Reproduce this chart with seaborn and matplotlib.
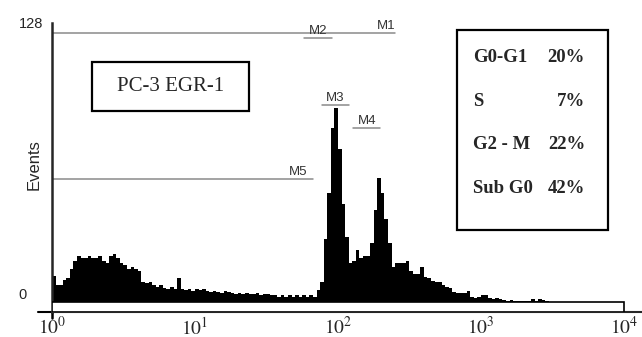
import numpy as np
import pandas as pd
import seaborn as sns
import matplotlib.pyplot as plt
from matplotlib.patches import Rectangle
from matplotlib.ticker import NullLocator

# histogram channels: 0.025 decade wide, starting at 10^0
bin_width = 0.025
counts = [
    12, 8, 8, 10, 11, 15, 19, 21, 20, 20,
    21, 20, 20, 21, 19, 18, 21, 22, 20, 18,
    17, 15, 16, 15, 14, 9, 8.5, 9, 8, 7,
    8, 6.5, 6, 7, 6, 11, 6, 5.5, 6, 5,
    6, 5.5, 6, 5, 4.5, 5, 4.5, 4, 5, 4.5,
    4, 3.5, 4, 3.5, 4, 3.5, 3.5, 4, 3, 3.5,
    3.5, 3, 3, 2.5, 3, 2.5, 3, 2.5, 3, 2.5,
    3, 2.5, 3, 2.5, 5.5, 9, 29, 50, 80, 89,
    70, 45, 30, 18, 19, 24, 20, 21, 21, 27,
    42, 57, 50, 38, 27, 16, 18, 18, 18, 19,
    14, 13, 13, 16, 11.5, 11, 9.5, 9, 9, 8,
    7, 6.5, 4.5, 4, 4, 4, 5, 2.5, 2, 2.5,
    3, 3, 2, 1.5, 2, 1.5, 1, 0.5, 1, 0.5,
    0.5, 0.5, 0.5, 0.3, 1.2, 0.6, 1.2, 0.8, 0.3, 0,
]

# marker gates (name, start, end, level)
gate_names = ["M1", "M2", "M3", "M4", "M5"]
gate_start = [1.0, 57.8, 77.3, 127.3, 1.0]
gate_end = [251.0, 90.8, 119.4, 196.7, 66.8]
gate_level = [123.4, 121.1, 90.4, 79.8, 56.4]
gate_label_x = [217.0, 72.4, 96.0, 159.0, 52.5]

phases = ["G0-G1", "S", "G2 - M", "Sub G0"]
phase_pct = ["20%", "7%", "22%", "42%"]

decades = [1, 10, 100, 1000, 10000]
decade_labels = [r"$10^{0}$", r"$10^{1}$", r"$10^{2}$", r"$10^{3}$", r"$10^{4}$"]

n = len(counts)
centers = 10 ** ((np.arange(n) + 0.5) * bin_width)
df = pd.DataFrame({"fl": centers, "events": counts})

sns.set_style("white")
plt.rcParams["font.family"] = ["Liberation Sans", "DejaVu Sans"]
plt.rcParams["mathtext.fontset"] = "stix"

fig = plt.figure(figsize=(6.42, 3.37), dpi=100)
ax = fig.add_axes([52 / 642, 25 / 337, 590 / 642, 289 / 337])

sns.histplot(data=df, x="fl", weights="events", bins=n, binrange=(0, n * bin_width),
             log_scale=True, element="step", fill=True, color="black", alpha=1,
             linewidth=0, ax=ax)

ax.set_xlim(1, 10 ** 4.126)
ax.set_ylim(-4.6, 128)

# baseline box under the histogram
ax.add_patch(Rectangle((1, -4.6), 10000 - 1, 4.6, facecolor="white",
                       edgecolor="black", lw=1.2, zorder=3))

for sp in ["top", "right"]:
    ax.spines[sp].set_visible(False)
ax.spines["left"].set_linewidth(1.8)
ax.spines["bottom"].set_linewidth(1.5)
ax.plot([-0.024, 0], [0, 0], transform=ax.transAxes, color="black", lw=1.5, clip_on=False)
ax.plot([0, 0], [-0.02, 0], transform=ax.transAxes, color="black", lw=1.8, clip_on=False)

ax.set_xticks(decades, labels=decade_labels)
ax.xaxis.set_minor_locator(NullLocator())
ax.tick_params(axis="x", direction="in", length=7, width=1.5, pad=3, labelsize=14)
ax.set_yticks([0, 128], labels=["0", "128"])
ax.tick_params(axis="y", length=0, pad=24, labelsize=10.5)
for lab in ax.get_yticklabels():
    lab.set_horizontalalignment("left")
ax.get_yticklabels()[0].set_verticalalignment("bottom")

ax.set_xlabel("")
ax.set_ylabel("Events", fontsize=12)
ax.yaxis.set_label_coords(-0.017, 0.509)

# markers
for name, s, e, lv, lx in zip(gate_names, gate_start, gate_end, gate_level, gate_label_x):
    ax.plot([s, e], [lv, lv], color="#8a8a8a", lw=1.1)
    ax.text(lx, lv + 0.6, name, ha="center", va="bottom", fontsize=9.5, color="#333333")

# sample label box
ax.add_patch(Rectangle((0.0678, 0.6955), 0.266, 0.1696, transform=ax.transAxes,
                       facecolor="white", edgecolor="black", lw=1.6))
ax.text(0.2008, 0.782, "PC-3 EGR-1", transform=ax.transAxes, ha="center", va="center",
        fontsize=15, family=["Liberation Serif", "DejaVu Serif"])

# cell cycle box
ax.add_patch(Rectangle((0.6864, 0.2837), 0.256, 0.692, transform=ax.transAxes,
                       facecolor="white", edgecolor="black", lw=1.6))
row_y = [0.882, 0.727, 0.578, 0.429]
for ph, pc, ry in zip(phases, phase_pct, row_y):
    ax.text(0.7136, ry, ph, transform=ax.transAxes, ha="left", va="center",
            fontsize=13.5, fontweight="bold", family=["Liberation Serif", "DejaVu Serif"])
    ax.text(0.9034, ry, pc, transform=ax.transAxes, ha="right", va="center",
            fontsize=13.5, fontweight="bold", family=["Liberation Serif", "DejaVu Serif"])

fig.savefig("out.png", dpi=100)
